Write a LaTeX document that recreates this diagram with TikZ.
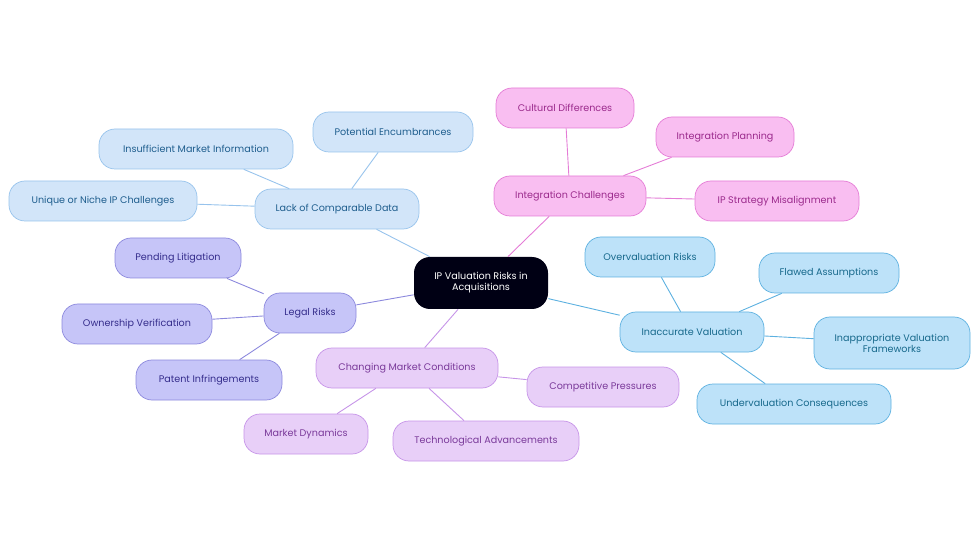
\documentclass[tikz,border=0pt]{standalone}
\usepackage{fontspec}
\setmainfont{Poppins}
\begin{document}
\begin{tikzpicture}[x=1pt,y=-1pt,
 base/.style={rounded corners=16pt,minimum height=40pt,align=center,font=\fontsize{9.6}{11}\selectfont,line width=0.7pt,inner xsep=4pt},
 bl/.style={base,fill=bf,draw=bd,text=bt},
 pk/.style={base,fill=pf,draw=pd,text=pt},
 lg/.style={base,fill=lf,draw=ld,text=lt},
 pu/.style={base,fill=uf,draw=ud,text=ut},
 cy/.style={base,fill=cf,draw=cd,text=ct},
 e/.style={line width=0.9pt}]
\definecolor{bf}{HTML}{D2E5F9}\definecolor{bd}{HTML}{97C3EC}\definecolor{bt}{HTML}{1F5E8E}
\definecolor{pf}{HTML}{F9BEF1}\definecolor{pd}{HTML}{E47CD6}\definecolor{pt}{HTML}{9B2A8C}
\definecolor{lf}{HTML}{C6C5F8}\definecolor{ld}{HTML}{8C89DD}\definecolor{lt}{HTML}{352D8C}
\definecolor{uf}{HTML}{E8CFF8}\definecolor{ud}{HTML}{C694E8}\definecolor{ut}{HTML}{7A3A9A}
\definecolor{cf}{HTML}{BDE2F9}\definecolor{cd}{HTML}{5DB1E0}\definecolor{ct}{HTML}{17698C}
\useasboundingbox (0,0) rectangle (980,553);
\node[base,fill=black!92!blue,draw=none,text=white,minimum width=134pt,minimum height=52pt] (c) at (481,283) {IP Valuation Risks in\\Acquisitions};
\node[bl,minimum width=164pt] (a) at (337,209) {Lack of Comparable Data};
\node[bl,minimum width=160pt] (a1) at (393,132) {Potential Encumbrances};
\node[bl,minimum width=194pt] (a2) at (196,149) {Insufficient Market Information};
\node[bl,minimum width=188pt] (a3) at (103,201) {Unique or Niche IP Challenges};
\node[pk,minimum width=152pt] (b) at (570,196) {Integration Challenges};
\node[pk,minimum width=138pt] (b1) at (565,108) {Cultural Differences};
\node[pk,minimum width=138pt] (b2) at (725,137) {Integration Planning};
\node[pk,minimum width=164pt] (b3) at (777,201) {IP Strategy Misalignment};
\node[lg,minimum width=92pt] (l) at (310,313) {Legal Risks};
\node[lg,minimum width=126pt] (l1) at (178,258) {Pending Litigation};
\node[lg,minimum width=150pt] (l2) at (137,324) {Ownership Verification};
\node[lg,minimum width=146pt] (l3) at (209,380) {Patent Infringements};
\node[pu,minimum width=182pt] (m) at (407,368) {Changing Market Conditions};
\node[pu,minimum width=152pt] (m1) at (603,387) {Competitive Pressures};
\node[pu,minimum width=124pt] (m2) at (306,434) {Market Dynamics};
\node[pu,minimum width=186pt] (m3) at (486,441) {Technological Advancements};
\node[cy,minimum width=144pt] (v) at (692,332) {Inaccurate Valuation};
\node[cy,minimum width=130pt] (v1) at (650,257) {Overvaluation Risks};
\node[cy,minimum width=140pt] (v2) at (829,273) {Flawed Assumptions};
\node[cy,minimum width=156pt,minimum height=52pt] (v3) at (892,343) {Inappropriate Valuation\\Frameworks};
\node[cy,minimum width=194pt] (v4) at (794,404) {Undervaluation Consequences};
\begin{scope}[on background layer/.style={}]
\end{scope}
\foreach \s/\t/\k in {c/a/bd,a/a1/bd,a/a2/bd,a/a3/bd,c/b/pd,b/b1/pd,b/b2/pd,b/b3/pd,c/l/ld,l/l1/ld,l/l2/ld,l/l3/ld,c/m/ud,m/m1/ud,m/m2/ud,m/m3/ud,c/v/cd,v/v1/cd,v/v2/cd,v/v3/cd,v/v4/cd}
  \draw[e,draw=\k] (\s) -- (\t);
\end{tikzpicture}
\end{document}
